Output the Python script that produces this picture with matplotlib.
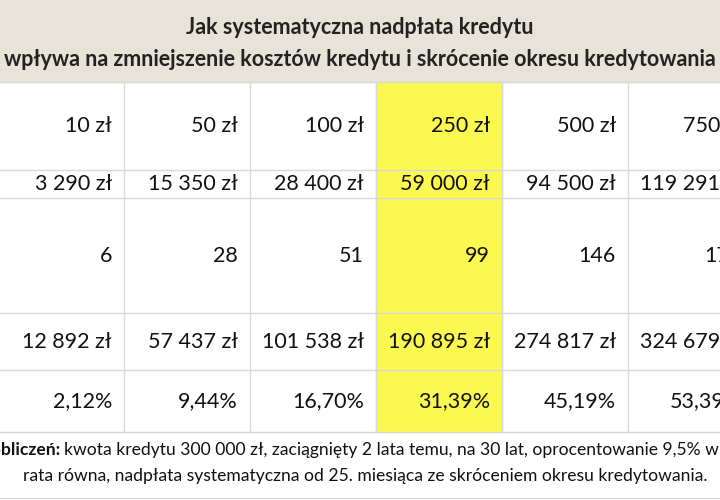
import matplotlib.pyplot as plt
from matplotlib.patches import Rectangle

plt.rcParams['font.family'] = ['Lato', 'DejaVu Sans']

# dane tabeli (kolumna ostatnia jest przycięta w oryginale)
nadplaty = ["10 zł", "50 zł", "100 zł", "250 zł", "500 zł", "750 zł"]
suma_nadplat = ["3 290 zł", "15 350 zł", "28 400 zł", "59 000 zł", "94 500 zł", "119 291 zł"]
mniej_rat = ["6", "28", "51", "99", "146", "172"]
oszczednosc = ["12 892 zł", "57 437 zł", "101 538 zł", "190 895 zł", "274 817 zł", "324 679 zł"]
procent = ["2,12%", "9,44%", "16,70%", "31,39%", "45,19%", "53,39%"]
rows = [nadplaty, suma_nadplat, mniej_rat, oszczednosc, procent]

title1 = "Jak systematyczna nadpłata kredytu"
title2 = "wpływa na zmniejszenie kosztów kredytu i skrócenie okresu kredytowania"
note_bold = "Założenia do obliczeń:"
note1 = "kwota kredytu 300 000 zł, zaciągnięty 2 lata temu, na 30 lat, oprocentowanie 9,5% w skali roku,"
note2 = "rata równa, nadpłata systematyczna od 25. miesiąca ze skróceniem okresu kredytowania."

# układ (piksele)
col_edges = [-2, 124, 250, 376, 502, 628, 754]
row_edges = [82, 170, 198, 313, 370, 432]
highlight = 3

fig = plt.figure(figsize=(7.2, 5.0), dpi=100)
ax = fig.add_axes([0, 0, 1, 1])
ax.set_xlim(0, 720)
ax.set_ylim(500, 0)
ax.axis("off")

ax.add_patch(Rectangle((0, 0), 720, 82, color="#e8e3d9", zorder=0))
ax.add_patch(Rectangle((col_edges[highlight], row_edges[0]),
                       col_edges[highlight + 1] - col_edges[highlight],
                       row_edges[-1] - row_edges[0], color="#fbf84f", zorder=0))

grid = "#d9d9d9"
for y in row_edges:
    ax.plot([0, 720], [y, y], color=grid, lw=1, zorder=1)
for x in col_edges[1:-1]:
    ax.plot([x, x], [row_edges[0], row_edges[-1]], color=grid, lw=1, zorder=1)
ax.plot([0, 720], [498, 498], color=grid, lw=1)

ax.text(360, 28, title1, ha="center", va="center", fontsize=15.5, fontweight="bold", color="#222")
ax.text(360, 59, title2, ha="center", va="center", fontsize=15.5, fontweight="bold", color="#222")

for r, vals in enumerate(rows):
    yc = (row_edges[r] + row_edges[r + 1]) / 2
    for c, v in enumerate(vals):
        ax.text(col_edges[c + 1] - 12, yc, v, ha="right", va="center",
                fontsize=15.5, color="#111", clip_on=True)

ax.text(60, 450, note_bold, ha="right", va="center", fontsize=12.6, fontweight="bold", color="#111")
ax.text(64, 450, note1, ha="left", va="center", fontsize=12.6, color="#111")
ax.text(365, 476, note2, ha="center", va="center", fontsize=12.6, color="#111")

fig.savefig("out.png", dpi=100, facecolor="white")
